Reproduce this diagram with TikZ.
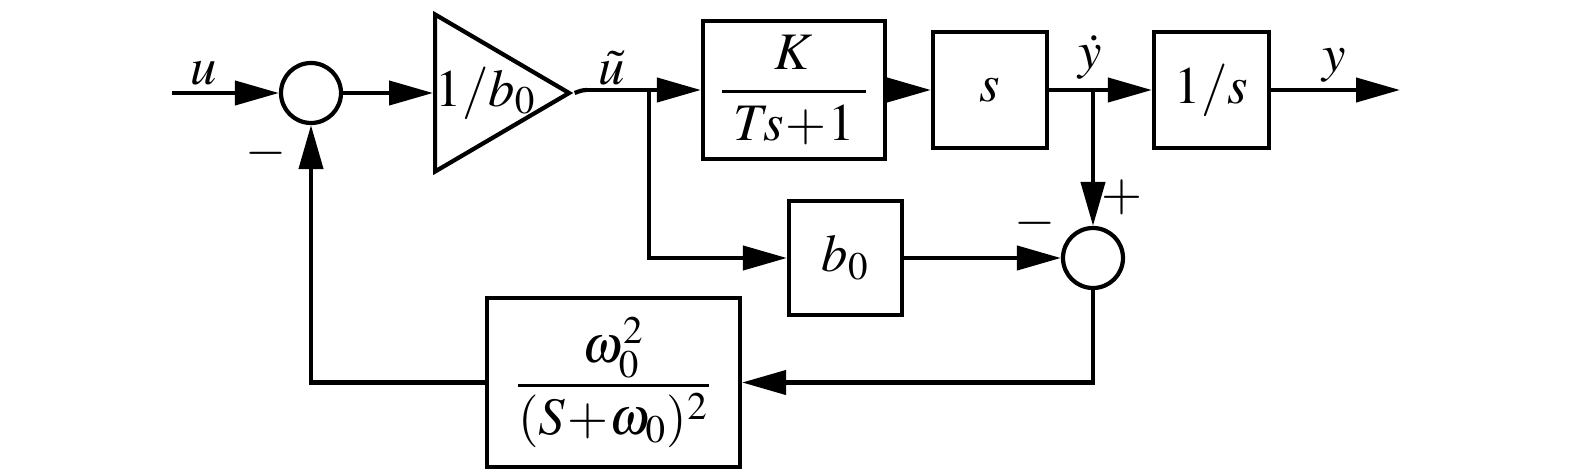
\documentclass[tikz,border=0pt]{standalone}
\usepackage{amsmath}
\usepackage{mathptmx}
\usetikzlibrary{arrows.meta,shapes.geometric}

\tikzset{
    every node/.style={font=\fontsize{15}{18}\selectfont},
    blockbox/.style={draw, line width=1.2pt, inner sep=0pt},
    sumnode/.style={draw, circle, line width=1.2pt, minimum size=0.6cm, inner sep=0pt},
    gainbox/.style={draw, isosceles triangle, isosceles triangle stretches, shape border rotate=0,
        line width=1.2pt, minimum width=1.57cm, minimum height=1.34cm, inner sep=0pt},
    arr/.style={line width=1.2pt, -{Triangle[length=4.4mm,width=2.4mm]}},
    wire/.style={line width=1.2pt}
}

\begin{document}
\begin{tikzpicture}
    \useasboundingbox (0,0) rectangle (15.75,4.73);

    % blocks
    \node[sumnode] (sum1) at (3.11,3.80) {};
    \node[gainbox, anchor=west] (gain) at (4.33,3.80) {};
    \node (gaintext) at ([xshift=5.3mm]gain.west) {$1/b_0$};
    \node[blockbox, minimum width=1.82cm, minimum height=1.38cm] (plant) at (7.94,3.83) {$\dfrac{K}{\;T\!s\!+\!1\;}$};
    \node[blockbox, minimum width=1.14cm, minimum height=1.16cm] (deriv) at (9.90,3.83) {$s$};
    \node[blockbox, minimum width=1.15cm, minimum height=1.16cm] (integ) at (12.115,3.83) {$1/s$};
    \node[blockbox, minimum width=1.13cm, minimum height=1.14cm] (bgain) at (8.455,2.15) {$b_0$};
    \node[sumnode] (sum2) at (10.93,2.15) {};
    \node[blockbox, minimum width=2.53cm, minimum height=1.69cm] (filt) at (6.135,0.905) {$\dfrac{\omega_0^2}{(S\!+\!\omega_0)^2}$};

    \coordinate (uin) at (1.72,3.80);
    \coordinate (ut) at (5.87,3.83);
    \coordinate (ubr) at (6.49,3.83);
    \coordinate (ybr) at (10.93,3.83);
    \coordinate (yout) at (14.00,3.83);

    % signals
    \draw[arr] (uin) -- (sum1);
    \draw[arr] (sum1) -- (gain.west);
    \draw[wire] (gain.apex) to[out=20,in=180] (ut);
    \draw[arr] (ut) -- (plant);
    \draw[arr] (ubr) |- (bgain);
    \draw[arr] (plant) -- (deriv);
    \draw[arr] (deriv) -- (integ);
    \draw[arr] (integ) -- (yout);
    \draw[arr] (ybr) -- (sum2);
    \draw[arr] (bgain) -- (sum2);
    \draw[arr] (sum2) |- (filt);
    \draw[arr] (filt) -| (sum1);

    % labels
    \node (lu) at (2.04,4.00) {$u$};
    \node (lut) at (6.12,4.05) {$\tilde{u}$};
    \node (lyd) at (10.90,4.16) {$\dot{y}$};
    \node (ly) at (13.34,4.08) {$y$};
    \node (m1) at (2.66,3.20) {$-$};
    \node (m2) at (10.35,2.50) {$-$};
    \node (p2) at (11.22,2.76) {$+$};
\end{tikzpicture}
\end{document}
